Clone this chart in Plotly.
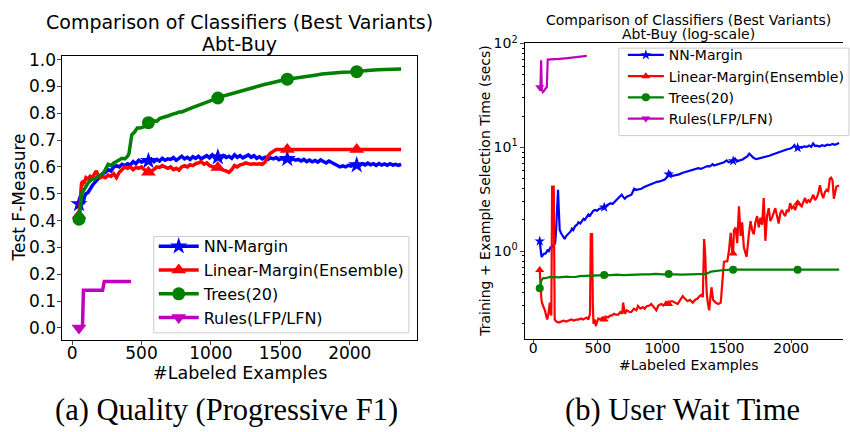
import plotly.graph_objects as go

W, H = 850, 432

# ---------------- Data: (a) Quality, Test F-Measure vs #Labeled examples ----------------
nn_q_x = [50,60,70,80,90,100,115,130,145,160,175,190,205,220,240,260,280,300,320,340,360,380,400,420,440,460,480,500,520,550,570,590,610,630,650,670,690,710,730,750,770,790,810,830,850,870,890,910,930,950,970,990,1010,1030,1050,1070,1090,1110,1130,1150,1170,1190,1210,1230,1250,1270,1290,1310,1330,1350,1370,1390,1410,1430,1450,1470,1490,1510,1530,1550,1570,1590,1610,1630,1650,1670,1690,1710,1730,1750,1770,1790,1810,1830,1850,1870,1890,1910,1930,1950,1970,1990,2010,2030,2050,2070,2090,2110,2130,2150,2170,2190,2210,2230,2250,2270,2290,2310,2330,2350,2370]
nn_q_y = [0.462,0.445,0.47,0.468,0.49,0.50,0.505,0.52,0.53,0.54,0.55,0.555,0.57,0.575,0.58,0.59,0.585,0.60,0.605,0.60,0.61,0.605,0.612,0.608,0.62,0.612,0.625,0.618,0.622,0.623,0.63,0.62,0.628,0.622,0.632,0.625,0.63,0.628,0.635,0.625,0.632,0.64,0.63,0.636,0.628,0.638,0.632,0.64,0.63,0.636,0.642,0.634,0.645,0.632,0.637,0.63,0.642,0.635,0.64,0.632,0.645,0.636,0.642,0.634,0.64,0.645,0.636,0.642,0.632,0.638,0.63,0.636,0.628,0.634,0.63,0.635,0.627,0.632,0.626,0.63,0.624,0.63,0.625,0.628,0.622,0.628,0.62,0.626,0.619,0.624,0.618,0.626,0.62,0.615,0.622,0.616,0.61,0.605,0.60,0.604,0.60,0.606,0.603,0.61,0.607,0.605,0.612,0.607,0.614,0.608,0.612,0.606,0.613,0.607,0.611,0.606,0.612,0.607,0.61,0.606,0.61]

lin_q_x = [50,55,60,65,70,75,80,90,100,115,130,145,160,175,190,205,220,240,260,280,300,320,340,360,380,400,420,440,460,480,500,520,550,570,590,610,630,650,670,690,710,730,750,770,790,810,830,850,870,890,910,930,950,970,990,1010,1030,1050,1070,1090,1110,1130,1150,1170,1190,1210,1230,1250,1270,1290,1310,1330,1350,1370,1390,1410,1430,1450,1470,1550,2050,2370]
lin_q_y = [0.42,0.44,0.47,0.52,0.545,0.53,0.55,0.545,0.56,0.555,0.565,0.56,0.57,0.585,0.565,0.56,0.565,0.56,0.57,0.565,0.575,0.56,0.58,0.59,0.60,0.595,0.60,0.59,0.598,0.595,0.60,0.59,0.58,0.585,0.59,0.60,0.598,0.605,0.60,0.595,0.60,0.59,0.595,0.588,0.60,0.605,0.60,0.608,0.605,0.612,0.615,0.62,0.61,0.615,0.605,0.60,0.598,0.598,0.592,0.588,0.585,0.58,0.59,0.605,0.60,0.608,0.61,0.615,0.612,0.61,0.612,0.61,0.612,0.61,0.618,0.64,0.652,0.66,0.665,0.665,0.665,0.665]

tree_q_x = [50,55,60,65,70,80,90,100,115,130,145,160,175,190,205,220,240,260,280,300,320,340,360,380,400,410,420,430,450,470,490,510,530,550,570,590,610,630,650,670,690,710,730,750,770,790,810,830,850,870,890,910,930,950,970,990,1010,1030,1050,1070,1090,1110,1130,1150,1170,1190,1210,1230,1250,1270,1290,1310,1330,1350,1370,1390,1410,1430,1450,1470,1490,1510,1530,1550,1600,1650,1700,1750,1800,1850,1900,1950,2000,2050,2100,2150,2200,2250,2300,2370]
tree_q_y = [0.405,0.43,0.47,0.49,0.50,0.51,0.52,0.53,0.54,0.548,0.555,0.555,0.56,0.565,0.57,0.575,0.59,0.61,0.605,0.615,0.62,0.625,0.632,0.63,0.64,0.65,0.68,0.72,0.73,0.745,0.745,0.75,0.752,0.765,0.765,0.772,0.77,0.78,0.785,0.787,0.79,0.795,0.798,0.80,0.805,0.805,0.81,0.815,0.82,0.822,0.826,0.83,0.835,0.838,0.84,0.845,0.848,0.852,0.857,0.86,0.865,0.867,0.87,0.873,0.878,0.88,0.884,0.887,0.89,0.892,0.895,0.898,0.90,0.902,0.905,0.908,0.91,0.913,0.916,0.918,0.92,0.922,0.925,0.927,0.93,0.934,0.938,0.942,0.946,0.949,0.951,0.953,0.954,0.955,0.958,0.96,0.962,0.963,0.964,0.965]

rule_q_x = [50,65,75,82,150,220,232,300,425]
rule_q_y = [0.0,0.0,0.005,0.14,0.14,0.14,0.173,0.173,0.173]

# ---------------- Data: (b) User wait time (secs, log) ----------------
nn_t_x = [50,57,64,75,85,95,110,120,133,145,159,170,177,185,192,198,205,215,223,233,243,255,265,274,290,300,310,325,340,350,365,377,390,400,415,428,440,455,465,479,495,510,531,550,565,582,600,615,633,650,665,685,700,710,725,740,761,770,782,800,820,838,860,880,900,930,960,980,1000,1020,1040,1050,1060,1075,1100,1130,1160,1190,1223,1250,1280,1300,1320,1350,1370,1390,1402,1420,1450,1480,1500,1515,1531,1550,1565,1580,1600,1620,1640,1660,1675,1690,1710,1730,1750,1770,1790,1810,1830,1850,1870,1890,1910,1930,1950,1970,1990,2010,2025,2040,2050,2065,2080,2100,2120,2140,2155,2170,2185,2200,2220,2240,2260,2280,2300,2320,2340,2360,2372]
nn_t_y = [1.25,1.0,0.88,0.92,0.95,0.95,1.02,1.0,1.09,1.1,1.15,1.2,1.6,3.0,3.9,2.5,1.6,1.5,1.45,1.35,1.31,1.4,1.45,1.5,1.55,1.65,1.6,1.75,1.8,1.9,1.85,1.95,2.05,2.0,2.15,2.26,2.2,2.35,2.45,2.5,2.45,2.55,2.6,2.65,2.75,2.8,2.9,2.85,3.0,3.1,3.3,3.5,3.3,3.2,3.35,3.4,3.5,3.7,4.0,3.9,3.95,4.0,4.15,4.25,4.3,4.5,4.66,4.7,4.8,4.9,5.2,5.5,5.7,5.3,5.35,5.5,5.7,5.85,6.0,6.1,6.3,6.2,6.4,6.6,6.55,6.9,6.7,6.8,7.0,7.2,7.5,7.2,7.3,7.4,7.8,7.3,7.5,7.6,7.9,8.2,8.7,8.3,7.9,7.7,7.8,7.9,8.1,8.2,8.3,8.5,8.7,8.9,9.1,9.3,9.4,9.6,9.7,10.0,10.5,9.8,9.9,10.1,9.9,10.2,10.1,10.4,10.1,10.9,10.3,10.4,10.2,10.5,10.3,10.6,10.5,10.8,10.6,10.9,11.0]

lin_t_x = [50,53,56,62,67,78,90,100,108,118,124,128,134,140,144,146,159,162,166,180,197,215,235,255,274,295,315,335,351,370,385,402,415,428,440,446,456,462,467,476,485,495,505,520,535,550,565,580,595,608,625,640,659,675,690,697,705,710,725,745,761,780,800,812,830,850,864,880,900,915,935,954,970,992,1010,1030,1043,1050,1065,1082,1100,1120,1140,1159,1175,1197,1215,1236,1255,1274,1290,1305,1315,1320,1325,1332,1338,1345,1352,1364,1373,1382,1395,1415,1435,1454,1466,1479,1492,1505,1518,1531,1544,1550,1556,1569,1582,1595,1608,1620,1633,1654,1672,1685,1697,1710,1723,1736,1749,1762,1775,1787,1800,1813,1826,1838,1851,1864,1877,1890,1903,1915,1928,1941,1954,1967,1980,1992,2005,2018,2031,2044,2050,2056,2069,2082,2095,2108,2120,2133,2146,2159,2172,2185,2197,2210,2223,2236,2249,2262,2274,2287,2300,2310,2321,2331,2341,2351,2372]
lin_t_y = [0.66,0.55,0.40,0.36,0.32,0.30,0.27,0.24,0.22,0.25,0.31,0.32,0.26,0.24,1.5,4.2,4.2,1.0,0.22,0.21,0.206,0.21,0.215,0.21,0.215,0.22,0.215,0.22,0.22,0.225,0.22,0.225,0.23,0.22,0.25,1.46,1.46,0.3,0.2,0.22,0.19,0.21,0.225,0.22,0.23,0.22,0.235,0.23,0.24,0.24,0.25,0.245,0.245,0.26,0.25,0.32,0.26,0.25,0.27,0.26,0.26,0.28,0.27,0.297,0.28,0.29,0.28,0.295,0.30,0.31,0.29,0.27,0.30,0.31,0.30,0.325,0.32,0.31,0.33,0.33,0.32,0.31,0.34,0.37,0.35,0.33,0.34,0.32,0.34,0.35,0.37,0.38,0.36,0.7,1.31,1.0,0.58,0.4,0.33,0.27,0.35,0.45,0.34,0.32,0.31,0.32,0.5,0.79,0.8,0.8,1.02,1.5,0.95,0.95,1.6,1.69,1.2,2.71,1.4,1.9,1.09,0.88,1.45,1.95,1.6,1.45,1.9,2.18,1.7,2.1,1.8,3.25,1.26,2.2,2.6,1.95,2.1,2.3,2.6,2.2,1.85,2.3,2.5,2.3,2.18,2.5,2.4,2.9,2.6,2.7,2.5,2.8,2.9,3.0,2.8,2.7,3.0,3.25,2.9,3.1,3.0,3.3,3.5,3.1,3.25,3.6,4.33,3.6,3.25,3.7,3.9,3.8,5.0,5.1,4.8,3.2,3.8,4.2,4.3]

tree_t_x = [50,56,62,70,80,95,110,130,150,172,200,230,260,290,325,360,400,454,500,550,600,650,700,750,800,850,900,950,1000,1050,1100,1150,1200,1250,1300,1340,1378,1420,1479,1550,2050,2372]
tree_t_y = [0.44,0.48,0.52,0.54,0.55,0.55,0.56,0.565,0.56,0.565,0.56,0.565,0.57,0.565,0.565,0.575,0.58,0.58,0.585,0.59,0.59,0.595,0.59,0.595,0.60,0.598,0.60,0.605,0.60,0.604,0.60,0.595,0.60,0.604,0.605,0.605,0.636,0.65,0.66,0.665,0.665,0.665]

rule_t_x = [50,55,61,66,74,84,95,105,112,150,200,250,300,350,400,415]
rule_t_y = [38,35,69,36,34,35,37,38,70,70,71,72,73,74,75,76]

marker_x = [50, 550, 1050, 1550, 2050]

names = ["NN-Margin", "Linear-Margin(Ensemble)", "Trees(20)", "Rules(LFP/LFN)"]
colors = ["#0000ff", "#ff0000", "#008000", "#bf00bf"]
symbols = ["star", "triangle-up", "circle", "triangle-down"]

left_series = [(nn_q_x, nn_q_y), (lin_q_x, lin_q_y), (tree_q_x, tree_q_y), (rule_q_x, rule_q_y)]
right_series = [(nn_t_x, nn_t_y), (lin_t_x, lin_t_y), (tree_t_x, tree_t_y), (rule_t_x, rule_t_y)]

FONT = "DejaVu Sans"

def px(x):
    return x / W

def py(y):
    return 1 - y / H

fig = go.Figure()

def add_series(series, xa, ya, lw, msize, legend):
    for (xs, ys), name, col, sym in zip(series, names, colors, symbols):
        fig.add_trace(go.Scatter(x=xs, y=ys, mode="lines", line=dict(color=col, width=lw),
                                 xaxis=xa, yaxis=ya, showlegend=False, hoverinfo="skip"))
        mx = [x for x in xs if x in marker_x]
        my = [y for x, y in zip(xs, ys) if x in marker_x]
        fig.add_trace(go.Scatter(x=mx, y=my, mode="markers",
                                 marker=dict(color=col, symbol=sym, size=msize, line=dict(width=0)),
                                 xaxis=xa, yaxis=ya, showlegend=False, hoverinfo="skip"))
    for name, col, sym in zip(names, colors, symbols):
        fig.add_trace(go.Scatter(x=[None], y=[None], mode="lines+markers", name=name,
                                 line=dict(color=col, width=lw),
                                 marker=dict(color=col, symbol=sym, size=msize, line=dict(width=0)),
                                 xaxis=xa, yaxis=ya, legend=legend, legendgroup=legend + name))

add_series(left_series, "x", "y", 3.5, 13, "legend")
add_series(right_series, "x2", "y2", 2.2, 8, "legend2")

fig.update_layout(
    width=W, height=H, autosize=False,
    margin=dict(l=0, r=0, t=0, b=0),
    paper_bgcolor="white", plot_bgcolor="white",
    font=dict(family=FONT, color="black"),
    xaxis=dict(domain=[px(63), px(420.7)], range=[-69, 2486], anchor="y",
               tickvals=[0, 500, 1000, 1500, 2000], ticks="outside", ticklen=4, tickwidth=1,
               ticklabelstandoff=-6,
               tickfont=dict(size=17), showline=True, linecolor="black", linewidth=1, mirror=True,
               showgrid=False, zeroline=False),
    yaxis=dict(domain=[py(337.7), py(47.7)], range=[-0.0438, 1.0146], anchor="x",
               tickvals=[0, 0.1, 0.2, 0.3, 0.4, 0.5, 0.6, 0.7, 0.8, 0.9, 1.0], tickformat=".1f",
               ticks="outside", ticklen=4, tickwidth=1, ticklabelstandoff=-2,
               tickfont=dict(size=17), showline=True, linecolor="black", linewidth=1, mirror=True,
               showgrid=False, zeroline=False),
    xaxis2=dict(domain=[px(529.3), 1.0], range=[-64.6, 2402], anchor="y2",
                tickvals=[0, 500, 1000, 1500, 2000], ticks="outside", ticklen=3.5, tickwidth=1,
                ticklabelstandoff=-7,
                tickfont=dict(size=14), showline=True, linecolor="black", linewidth=1, mirror=True,
                showgrid=False, zeroline=False),
    yaxis2=dict(domain=[py(336.7), py(34.7)], type="log", range=[-0.842, 2.005], anchor="x2",
                tickvals=[1, 10, 100], ticktext=["10<sup>0</sup>", "10<sup>1</sup>", "10<sup>2</sup>"],
                ticks="outside", ticklen=3.5, tickwidth=1, tickfont=dict(size=14),
                minor=dict(tickvals=[0.2, 0.3, 0.4, 0.5, 0.6, 0.7, 0.8, 0.9, 2, 3, 4, 5, 6, 7, 8, 9,
                                     20, 30, 40, 50, 60, 70, 80, 90],
                           ticks="outside", ticklen=2, tickwidth=1, tickcolor="black"),
                showline=True, linecolor="black", linewidth=1, mirror=False,
                showgrid=False, zeroline=False),
    legend=dict(x=px(155), y=py(225), xanchor="left", yanchor="top",
                bgcolor="rgba(0,0,0,0)", borderwidth=0, itemwidth=40,
                font=dict(size=16, family=FONT), traceorder="grouped", tracegroupgap=0),
    legend2=dict(x=px(628), y=py(31), xanchor="left", yanchor="top",
                 bgcolor="rgba(0,0,0,0)", borderwidth=0, itemwidth=36,
                 font=dict(size=14, family=FONT), traceorder="grouped", tracegroupgap=0),
    shapes=[
        dict(type="rect", xref="paper", yref="paper", x0=px(155), x1=px(412.3), y0=py(330.7), y1=py(232.3),
             fillcolor="white", line=dict(color="#cccccc", width=1), layer="above"),
        dict(type="rect", xref="paper", yref="paper", x0=px(624), x1=px(856), y0=py(129.3), y1=py(40),
             fillcolor="white", line=dict(color="#cccccc", width=1), layer="above"),
    ],
)

ann = []
# titles (one annotation per line)
ann.append(dict(text="Comparison of Classifiers (Best Variants)", x=px(241), y=py(13.5), font=dict(size=19, family=FONT)))
ann.append(dict(text="Abt-Buy", x=px(241), y=py(36), font=dict(size=19, family=FONT)))
ann.append(dict(text="Comparison of Classifiers (Best Variants)", x=px(694), y=py(11.7), font=dict(size=14, family=FONT)))
ann.append(dict(text="Abt-Buy (log-scale)", x=px(694), y=py(26), font=dict(size=14, family=FONT)))
# axis labels
ann.append(dict(text="#Labeled Examples", x=px(241.5), y=py(371.7), font=dict(size=17.5, family=FONT)))
ann.append(dict(text="Test F-Measure", x=px(19), y=py(192.7), textangle=-90, font=dict(size=17, family=FONT)))
ann.append(dict(text="#Labeled Examples", x=px(694.3), y=py(364), font=dict(size=14, family=FONT)))
ann.append(dict(text="Training + Example Selection Time (secs)", x=px(489), y=py(185.7), textangle=-90,
                font=dict(size=14, family=FONT)))
# captions
ann.append(dict(text="(a) Quality (Progressive F1)", x=px(228.5), y=py(410), font=dict(size=30.5, family="Liberation Serif")))
ann.append(dict(text="(b) User Wait Time", x=px(688), y=py(410), font=dict(size=30.5, family="Liberation Serif")))

for a in ann:
    a.update(xref="paper", yref="paper", showarrow=False, xanchor="center", yanchor="middle")
fig.update_layout(annotations=ann)

fig.write_html("out.html")
